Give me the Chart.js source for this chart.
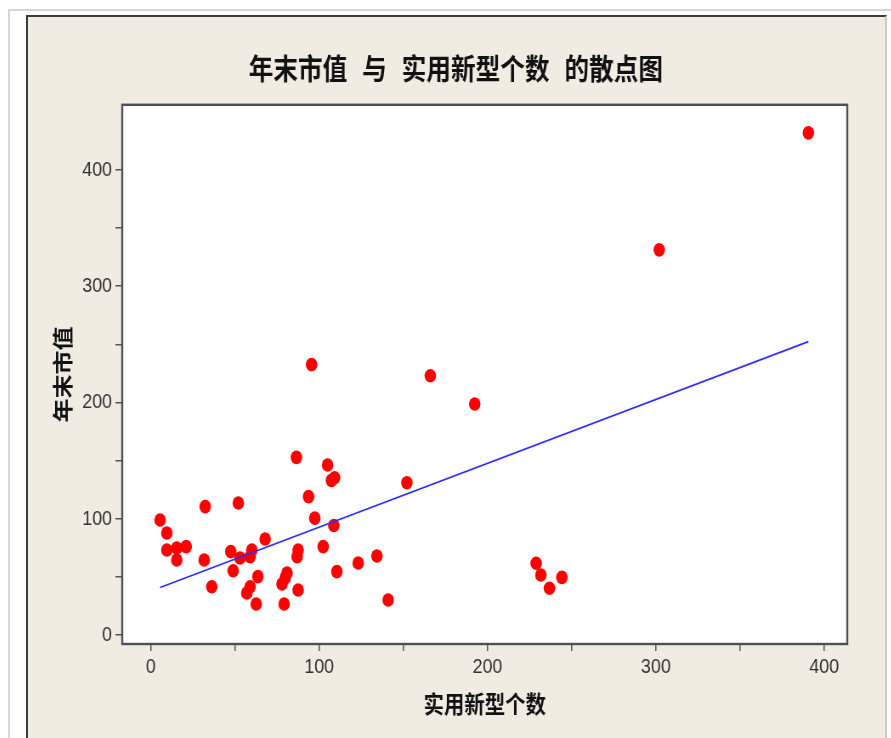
<!DOCTYPE html>
<html>
<head>
<meta charset="utf-8">
<script src="https://cdn.jsdelivr.net/npm/chart.js@4.4.1/dist/chart.umd.min.js"></script>
<style>
html, body { margin: 0; padding: 0; background: #fff; width: 891px; height: 738px; overflow: hidden; }
#frame { position: absolute; left: 8px; top: 9px; width: 883px; height: 729px; border-left: 2px solid #d6d6d6; border-top: 2px solid #d6d6d6; }
#panel { position: absolute; left: 26px; top: 15px; width: 857px; height: 723px; background: #f0ece2;
  border-left: 2px solid #3c3c3c; border-top: 2px solid #3c3c3c; border-right: 2px solid #cfcac0; }
/* the source picture is squeezed horizontally, so draw wide and scale down */
#wrap { position: absolute; left: 27px; top: 17px; width: 1009px; height: 721px; transform: scaleX(0.85); transform-origin: 0 0; }
</style>
</head>
<body>
<div id="frame"></div>
<div id="panel"></div>
<div id="wrap"><canvas id="c" width="1009" height="721" style="width:1009px;height:721px"></canvas></div>
<script>
// 实用新型个数
const xVals = [5.5, 9.5, 9.5, 15.4, 15.4, 21, 32.3, 31.7, 36.2, 47.5,
  48.9, 52, 53, 57, 59, 60, 59, 62.6, 63.6, 67.9,
  80.9, 79.8, 77.9, 79.2, 86.5, 87.5, 86.9, 87.5, 93.7, 95.5,
  97.4, 102.4, 105, 107.3, 109.2, 108.7, 110.5, 123.2, 134.3, 141,
  152.1, 166, 192.4, 228.9, 231.7, 236.8, 244.2, 302, 390.6];
// 年末市值
const yVals = [98.9, 87.7, 73.1, 74.8, 64.5, 76, 110.4, 64.5, 41.5, 71.7,
  55.3, 113.5, 66.2, 36.1, 41.5, 73.1, 67.4, 26.7, 50.2, 82.6,
  53.3, 49, 43.9, 26.7, 152.8, 38.7, 67.4, 73.1, 119, 232.5,
  100.5, 76, 146.2, 133, 135.2, 94.2, 54.5, 61.9, 68, 30.1,
  131, 222.9, 198.7, 61.7, 51.6, 40.2, 49.6, 331.2, 431.8];
// fitted line end points
const fitX = [5.5, 390.6];
const fitY = [40.9, 252.3];
const tickLabels = ['0', '100', '200', '300', '400'];

const tickFont = { family: "'Liberation Sans', Arial, sans-serif", size: 21 };
const cjkBold = { family: "'Noto Sans CJK SC', sans-serif", size: 24, weight: 'bold' };

const labelOnly100 = v => tickLabels.includes(String(v)) ? String(v) : '';
const dropAbove400 = s => { s.ticks = s.ticks.filter(t => t.value <= 400); };

const plotBox = {
  id: 'plotBox',
  beforeDatasetsDraw(chart) {
    const { ctx, chartArea: a } = chart;
    ctx.save();
    ctx.fillStyle = '#fff';
    ctx.fillRect(a.left, a.top, a.right - a.left, a.bottom - a.top);
    ctx.strokeStyle = '#505050';
    ctx.lineWidth = 2.4;
    ctx.strokeRect(a.left, a.top, a.right - a.left, a.bottom - a.top);
    ctx.restore();
  }
};

new Chart(document.getElementById('c'), {
  type: 'scatter',
  data: {
    datasets: [{
      data: fitX.map((x, i) => ({ x: x, y: fitY[i] })),
      showLine: true,
      borderColor: 'rgb(45,45,255)',
      borderWidth: 1.7,
      pointRadius: 0
    }, {
      data: xVals.map((x, i) => ({ x: x, y: yVals[i] })),
      backgroundColor: 'rgb(255,0,0)',
      borderWidth: 0,
      pointRadius: 6.8
    }]
  },
  options: {
    responsive: false,
    animation: false,
    layout: { padding: 0 },
    plugins: {
      legend: { display: false },
      tooltip: { enabled: false },
      title: {
        display: true,
        text: '年末市值 与 实用新型个数 的散点图',
        color: '#111',
        font: { family: "'DejaVu Sans Mono', 'Noto Sans CJK SC', sans-serif", size: 29, weight: 'bold' },
        padding: { top: 38, bottom: 15 }
      }
    },
    scales: {
      x: {
        type: 'linear',
        min: -17,
        max: 413.7,
        afterBuildTicks: dropAbove400,
        afterFit: s => { s.height = 94; },
        ticks: { stepSize: 50, includeBounds: false, autoSkip: false, maxRotation: 0,
          padding: 4, font: tickFont, color: '#333', callback: labelOnly100 },
        grid: { drawOnChartArea: false, tickLength: 7, color: '#555', lineWidth: 1.5 },
        border: { display: false },
        title: { display: true, text: '实用新型个数', color: '#111', font: cjkBold,
          padding: { top: 0, bottom: 20 } }
      },
      y: {
        min: -7.7,
        max: 455.9,
        afterBuildTicks: dropAbove400,
        afterFit: s => { s.width = 112; },
        ticks: { stepSize: 50, includeBounds: false, autoSkip: false,
          padding: 4, font: tickFont, color: '#333', callback: labelOnly100 },
        grid: { drawOnChartArea: false, tickLength: 8, color: '#555', lineWidth: 1.5 },
        border: { display: false },
        title: { display: true, text: '年末市值', color: '#111', font: cjkBold,
          padding: { top: 27, bottom: 0 } }
      },
      y2: {
        position: 'right',
        grid: { display: false },
        ticks: { display: false },
        border: { display: false },
        afterFit: s => { s.width = 44; }
      }
    }
  },
  plugins: [plotBox]
});
</script>
</body>
</html>
